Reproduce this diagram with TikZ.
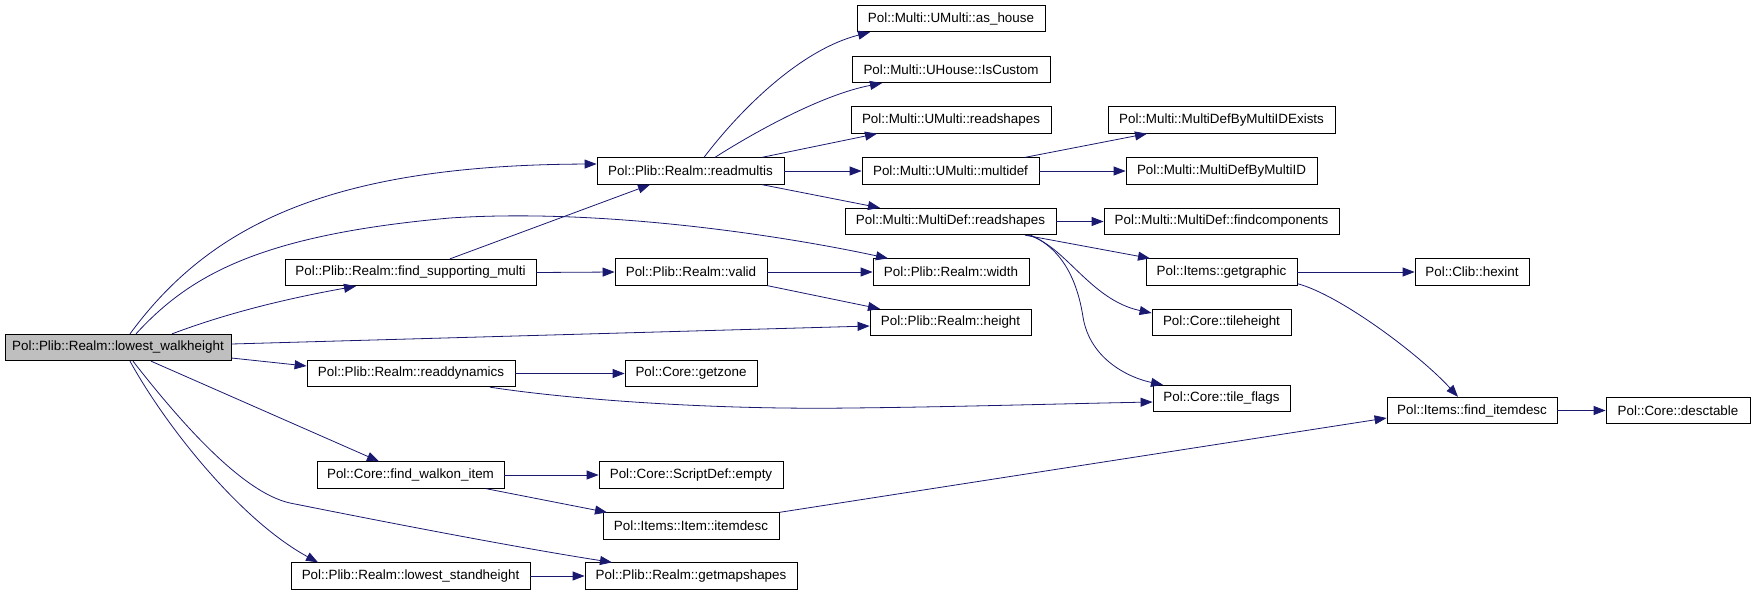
\documentclass[tikz,border=0pt]{standalone}
\usepackage{fontspec}
\setmainfont{Liberation Sans}
\usetikzlibrary{arrows.meta}
\definecolor{callblue}{HTML}{191970}
\definecolor{rootgray}{HTML}{BFBFBF}

\begin{document}
\begin{tikzpicture}[x=1pt,y=-1pt,
  fn/.style={draw=black,line width=0.8pt,minimum height=26.5pt,inner sep=0pt,font=\fontsize{13.4}{16}\selectfont},
  call/.style={draw=callblue,line width=0.8pt,-{Triangle[length=12pt,width=9pt]}}]
\useasboundingbox (0,0) rectangle (1755,595);

% caller
\node[fn,fill=rootgray,minimum width=226pt] (lw) at (118,347.5) {Pol::Plib::Realm::lowest\_walkheight};

% first column
\node[fn,minimum width=251pt] (fsm) at (410.5,272.5) {Pol::Plib::Realm::find\_supporting\_multi};
\node[fn,minimum width=208pt] (rdyn) at (411,373.5) {Pol::Plib::Realm::readdynamics};
\node[fn,minimum width=187pt] (fwi) at (410.5,475) {Pol::Core::find\_walkon\_item};
\node[fn,minimum width=239pt] (lsh) at (410.5,576) {Pol::Plib::Realm::lowest\_standheight};

% second column
\node[fn,minimum width=187pt] (rm) at (690.5,171) {Pol::Plib::Realm::readmultis};
\node[fn,minimum width=152pt] (valid) at (691,272) {Pol::Plib::Realm::valid};
\node[fn,minimum width=132pt] (getzone) at (691,373.5) {Pol::Core::getzone};
\node[fn,minimum width=184pt] (empty) at (691,475) {Pol::Core::ScriptDef::empty};
\node[fn,minimum width=176pt] (itemdesc) at (691,526) {Pol::Items::Item::itemdesc};
\node[fn,minimum width=212pt] (gms) at (691,576) {Pol::Plib::Realm::getmapshapes};

% third column
\node[fn,minimum width=188pt] (ashouse) at (951,18.5) {Pol::Multi::UMulti::as\_house};
\node[fn,minimum width=198pt] (iscustom) at (951,69.5) {Pol::Multi::UHouse::IsCustom};
\node[fn,minimum width=200pt] (ureadshapes) at (951,120) {Pol::Multi::UMulti::readshapes};
\node[fn,minimum width=177pt] (multidef) at (950.5,171) {Pol::Multi::UMulti::multidef};
\node[fn,minimum width=211pt] (mdreadshapes) at (950.5,221.5) {Pol::Multi::MultiDef::readshapes};
\node[fn,minimum width=156pt] (width) at (951,272) {Pol::Plib::Realm::width};
\node[fn,minimum width=161pt] (height) at (950.5,322.5) {Pol::Plib::Realm::height};

% fourth column
\node[fn,minimum width=227pt] (mdexists) at (1221.5,120) {Pol::Multi::MultiDefByMultiIDExists};
\node[fn,minimum width=191pt] (mdbyid) at (1221.5,171) {Pol::Multi::MultiDefByMultiID};
\node[fn,minimum width=235pt] (findcomp) at (1221.5,221.5) {Pol::Multi::MultiDef::findcomponents};
\node[fn,minimum width=151pt] (getgraphic) at (1221.5,272) {Pol::Items::getgraphic};
\node[fn,minimum width=139pt] (tileheight) at (1221.5,322.5) {Pol::Core::tileheight};
\node[fn,minimum width=137pt] (tileflags) at (1221.5,398.5) {Pol::Core::tile\_flags};

% last columns
\node[fn,minimum width=114pt] (hexint) at (1472,272) {Pol::Clib::hexint};
\node[fn,minimum width=170pt] (finditemdesc) at (1472,410.5) {Pol::Items::find\_itemdesc};
\node[fn,minimum width=144pt] (desctable) at (1678,410.5) {Pol::Core::desctable};

% straight calls
\foreach \a/\b in {fsm/valid,rdyn/getzone,fwi/empty,lsh/gms,rm/multidef,valid/width,
  multidef/mdbyid,mdreadshapes/findcomp,getgraphic/hexint,finditemdesc/desctable}
  \draw[call] (\a.east) -- (\b.west);

% calls of lowest_walkheight
\draw[call] ([xshift=12pt]lw.north) .. controls (210,225) and (330,165) .. ([yshift=7pt]rm.west);
\draw[call] ([xshift=18pt]lw.north) .. controls (190,275) and (260,235) .. (450,218)
  .. controls (600,208) and (780,235) .. ([xshift=-63pt]width.north);
\draw[call] ([xshift=54pt]lw.north) .. controls (230,312) and (290,298) .. ([xshift=-54.5pt]fsm.south);
\draw[call] ([yshift=3.5pt]lw.east) -- ([yshift=-3.5pt]height.west);
\draw[call] ([yshift=-10.5pt]lw.east) -- ([yshift=7.5pt]rdyn.west);
\draw[call] ([xshift=33pt]lw.south) -- ([xshift=-31.5pt]fwi.north);
\draw[call] ([xshift=15pt]lw.south) .. controls (175,415) and (240,492) .. (290,503)
  .. controls (400,525) and (520,548) .. ([xshift=-79pt]gms.north);
\draw[call] ([xshift=12pt]lw.south) .. controls (165,425) and (240,520) .. ([xshift=-92.5pt]lsh.north);

% second level
\draw[call] ([xshift=39.5pt]fsm.north) -- ([xshift=-40.5pt]rm.south);
\draw[call] (valid.south east) -- ([xshift=-70.5pt]height.north);
\draw[call] ([xshift=79pt]rdyn.south) .. controls (560,398) and (700,410) .. (850,408)
  .. controls (950,407) and (1050,404) .. ([yshift=-3.5pt]tileflags.west);
\draw[call] ([xshift=75.5pt]fwi.south) -- ([xshift=-84pt]itemdesc.north);
\draw[call] (itemdesc.north east) -- ([yshift=-7.5pt]finditemdesc.west);

% calls of readmultis
\draw[call] ([xshift=13.5pt]rm.north) .. controls (740,110) and (800,50) .. ([xshift=-81pt]ashouse.south);
\draw[call] ([xshift=24.5pt]rm.north) .. controls (750,135) and (820,95) .. ([xshift=-69pt]iscustom.south);
\draw[call] ([xshift=71.5pt]rm.north) -- ([xshift=-74pt]ureadshapes.south);
\draw[call] ([xshift=71.5pt]rm.south) -- ([xshift=-70.5pt]mdreadshapes.north);
\draw[call] ([xshift=74.5pt]multidef.north) -- ([xshift=-74.5pt]mdexists.south);

% calls of readshapes
\draw[call] ([xshift=74.5pt]mdreadshapes.south) -- ([xshift=-71.5pt]getgraphic.north);
\draw[call] ([xshift=77.5pt]mdreadshapes.south) .. controls (1065,245) and (1090,300) .. ([yshift=9.5pt]tileheight.west);
\draw[call] ([xshift=80pt]mdreadshapes.south) .. controls (1065,250) and (1078,285) .. (1083,317)
  .. controls (1090,360) and (1130,378) .. ([xshift=-58.5pt]tileflags.north);
\draw[call] ([yshift=2pt]getgraphic.south east) .. controls (1340,295) and (1420,355) .. ([xshift=-14pt]finditemdesc.north);
\end{tikzpicture}
\end{document}
